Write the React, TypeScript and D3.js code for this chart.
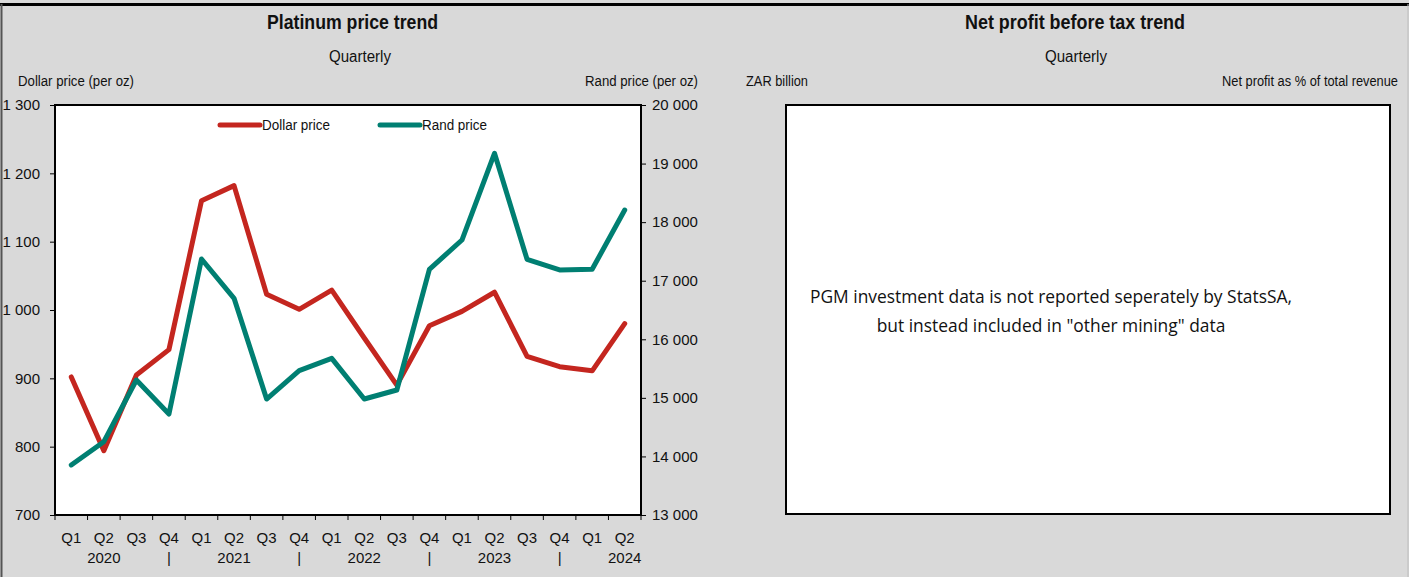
import * as d3 from 'd3'
import { useEffect, useRef } from 'react'

const quarters = ['Q1','Q2','Q3','Q4','Q1','Q2','Q3','Q4','Q1','Q2','Q3','Q4','Q1','Q2','Q3','Q4','Q1','Q2']
const yearRow = ['','2020','','|','','2021','','|','','2022','','|','','2023','','|','','2024']
const dollarPrice = [902, 794, 905, 942, 1160, 1182, 1023, 1001, 1029, 959, 890, 977, 998, 1026, 932, 917, 911, 980]
const randPrice = [13854, 14252, 15305, 14724, 17371, 16700, 14980, 15464, 15675, 14980, 15134, 17195, 17695, 19175, 17365, 17183, 17195, 18207]
const leftTicks = [700, 800, 900, 1000, 1100, 1200, 1300]
const rightTicks = [13000, 14000, 15000, 16000, 17000, 18000, 19000, 20000]

const RED = '#C4261F'
const TEAL = '#007F72'
const BG = '#D9D9D9'
const NARROW = '"Liberation Sans Narrow", "Arial Narrow", "Liberation Sans", Arial, sans-serif'

const fmt = (v: number) => d3.format(',')(v).replace(/,/g, ' ')

export default function App(){
  const svgRef = useRef<SVGSVGElement|null>(null)
  const width = 1409, height = 577
  const m = { left: 55, right: 641, top: 105, bottom: 515 }

  useEffect(()=>{
    document.body.style.margin = '0'
    const svg = d3.select(svgRef.current)
    svg.selectAll('*').remove()

    svg.append('rect').attr('width', width).attr('height', height).attr('fill', BG)

    // outer frame
    svg.append('line').attr('x1', 0).attr('x2', width).attr('y1', 4.5).attr('y2', 4.5).attr('stroke', '#000').attr('stroke-width', 3)
    svg.append('line').attr('x1', 1.5).attr('x2', 1.5).attr('y1', 4).attr('y2', height).attr('stroke', '#555').attr('stroke-width', 2)
    svg.append('line').attr('x1', width - 1).attr('x2', width - 1).attr('y1', 4).attr('y2', height).attr('stroke', '#bdbdbd').attr('stroke-width', 1)

    // squeeze a label to the width measured on the reference (narrow font not installed)
    const label = (g: d3.Selection<SVGGElement, unknown, null, undefined>, txt: string, xPos: number, yPos: number, size: number, len: number, anchor = 'start', bold = false) =>
      g.append('text').attr('x', xPos).attr('y', yPos).attr('text-anchor', anchor).attr('font-size', size)
        .attr('font-weight', bold ? 'bold' : 'normal').attr('textLength', len).attr('lengthAdjust', 'spacingAndGlyphs').text(txt)

    // ---------- left panel ----------
    const L = svg.append('g').attr('font-family', NARROW).attr('fill', '#111')
    label(L, 'Platinum price trend', 352.5, 29, 20, 171, 'middle', true)
    label(L, 'Quarterly', 360, 62, 16, 62, 'middle')
    label(L, 'Dollar price (per oz)', 18, 86, 14, 116)
    label(L, 'Rand price (per oz)', 698, 86, 14, 113, 'end')

    const x = d3.scaleBand<number>().domain(d3.range(quarters.length)).range([m.left, m.right]).padding(0)
    const cx = (i: number) => (x(i) ?? 0) + x.bandwidth() / 2
    const yL = d3.scaleLinear().domain([700, 1300]).range([m.bottom, m.top])
    const yR = d3.scaleLinear().domain([13000, 20000]).range([m.bottom, m.top])

    L.append('rect').attr('x', m.left).attr('y', m.top).attr('width', m.right - m.left).attr('height', m.bottom - m.top)
      .attr('fill', '#fff').attr('stroke', '#000').attr('stroke-width', 2)

    const axL = L.append('g').attr('transform', `translate(${m.left},0)`)
      .call(d3.axisLeft(yL).tickValues(leftTicks).tickFormat(d => fmt(+d)).tickSize(5).tickSizeOuter(0))
    axL.select('.domain').remove()
    axL.selectAll('text').attr('font-size', 15).attr('font-family', NARROW).attr('fill', '#111').attr('x', -15)
    axL.selectAll('line').attr('stroke', '#000')

    const axR = L.append('g').attr('transform', `translate(${m.right},0)`)
      .call(d3.axisRight(yR).tickValues(rightTicks).tickFormat(d => fmt(+d)).tickSize(5).tickSizeOuter(0))
    axR.select('.domain').remove()
    axR.selectAll('text').attr('font-size', 15).attr('font-family', NARROW).attr('fill', '#111').attr('x', 11)
    axR.selectAll('line').attr('stroke', '#000')

    // x ticks at category boundaries
    const bounds = d3.range(quarters.length + 1).map(i => m.left + i * x.bandwidth())
    L.append('g').selectAll('line').data(bounds).join('line')
      .attr('x1', d => d).attr('x2', d => d).attr('y1', m.bottom).attr('y2', m.bottom + 5).attr('stroke', '#000')
    L.append('g').selectAll('text').data(quarters).join('text')
      .attr('x', (_d, i) => cx(i)).attr('y', 543).attr('text-anchor', 'middle').attr('font-size', 15).text(d => d)
    L.append('g').selectAll('text').data(yearRow).join('text')
      .attr('x', (_d, i) => cx(i)).attr('y', 563).attr('text-anchor', 'middle').attr('font-size', 15).text(d => d)

    const lineL = d3.line<number>().x((_d, i) => cx(i)).y(d => yL(d))
    const lineR = d3.line<number>().x((_d, i) => cx(i)).y(d => yR(d))
    L.append('path').datum(dollarPrice).attr('d', lineL).attr('fill', 'none').attr('stroke', RED).attr('stroke-width', 5).attr('stroke-linejoin', 'round').attr('stroke-linecap', 'round')
    L.append('path').datum(randPrice).attr('d', lineR).attr('fill', 'none').attr('stroke', TEAL).attr('stroke-width', 5).attr('stroke-linejoin', 'round').attr('stroke-linecap', 'round')

    // legend
    const legend = [
      { label: 'Dollar price', color: RED, x: 220, len: 68 },
      { label: 'Rand price', color: TEAL, x: 380, len: 65 },
    ]
    const lg = L.append('g').selectAll('g').data(legend).join('g').attr('transform', d => `translate(${d.x},125)`)
    lg.append('line').attr('x1', 0).attr('x2', 40).attr('stroke', d => d.color).attr('stroke-width', 5).attr('stroke-linecap', 'round')
    lg.append('text').attr('x', 42).attr('y', 5).attr('font-size', 14)
      .attr('textLength', d => d.len).attr('lengthAdjust', 'spacingAndGlyphs').text(d => d.label)

    // ---------- right panel ----------
    const R = svg.append('g').attr('font-family', NARROW).attr('fill', '#111')
    label(R, 'Net profit before tax trend', 1075, 29, 20, 220, 'middle', true)
    label(R, 'Quarterly', 1076, 62, 16, 62, 'middle')
    label(R, 'ZAR billion', 746, 86, 14, 62)
    label(R, 'Net profit as % of total revenue', 1398, 86, 14, 176, 'end')
    R.append('rect').attr('x', 786).attr('y', 105).attr('width', 604).attr('height', 409)
      .attr('fill', '#fff').attr('stroke', '#000').attr('stroke-width', 2)
    const note = R.append('text').attr('text-anchor', 'middle').attr('font-family', '"Open Sans", "Noto Sans", sans-serif').attr('font-size', 17.4)
    note.append('tspan').attr('x', 1051).attr('y', 303).text('PGM investment data is not reported seperately by StatsSA,')
    note.append('tspan').attr('x', 1051).attr('y', 332).text('but instead included in "other mining" data')
  }, [])

  return <svg ref={svgRef} width={width} height={height} style={{ display: 'block' }}></svg>
}
